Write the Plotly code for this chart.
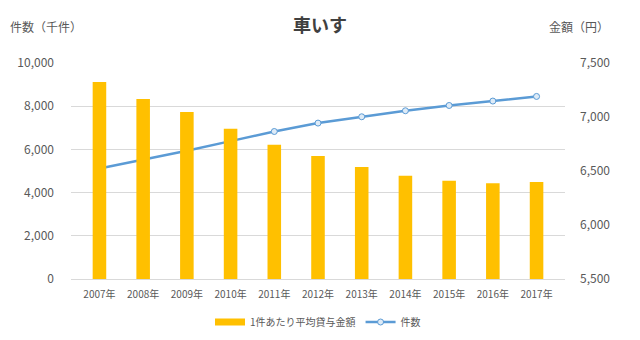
import plotly.graph_objects as go

years = ["2007年", "2008年", "2009年", "2010年", "2011年", "2012年",
         "2013年", "2014年", "2015年", "2016年", "2017年"]
amount_yen = [7324, 7166, 7046, 6891, 6742, 6638, 6538, 6455, 6409, 6387, 6399]
count_k = [5114, 5517, 5934, 6384, 6829, 7218, 7510, 7789, 8034, 8238, 8452]

FONT = "Noto Sans CJK JP"
TXT = "#595959"
BAR_C = "#FFC000"
LINE_C = "#5B9BD5"

fig = go.Figure()
fig.add_trace(go.Bar(
    x=years, y=amount_yen, name="1件あたり平均貸与金額",
    marker=dict(color=BAR_C, line=dict(width=0)),
    width=0.31, yaxis="y2", showlegend=False,
))
# legend-only entry to give the bar series a wide rectangle swatch
fig.add_trace(go.Scatter(
    x=[None], y=[None], name="1件あたり平均貸与金額", mode="lines",
    line=dict(color=BAR_C, width=7), yaxis="y2", hoverinfo="skip",
))
fig.add_trace(go.Scatter(
    x=years, y=count_k, name="件数", mode="lines+markers",
    line=dict(color=LINE_C, width=2.5),
    marker=dict(symbol="circle", size=6, color="#DEEBF7",
                line=dict(color=LINE_C, width=1)),
    yaxis="y",
))

W, H = 640, 340
pl, pr, pt, pb = 71, 75, 63, 61
pw, ph = W - pl - pr, H - pt - pb

fig.update_layout(
    width=W, height=H,
    margin=dict(l=pl, r=pr, t=pt, b=pb, autoexpand=False),
    paper_bgcolor="white", plot_bgcolor="white",
    font=dict(family=FONT, color=TXT, size=12),
    title=dict(text="<b>車いす</b>", x=0.5, xanchor="center", y=0.925,
               yanchor="middle", font=dict(size=18, color="#404040")),
    showlegend=True,
    legend=dict(orientation="h", x=0.5, xanchor="center",
                yref="container", y=1 - 322 / H, yanchor="middle",
                font=dict(size=10, color=TXT), itemwidth=30,
                traceorder="normal"),
    xaxis=dict(showgrid=False, showline=False, ticks="",
               ticklabelstandoff=8,
               tickfont=dict(size=10, color=TXT)),
    yaxis=dict(range=[0, 10000], dtick=2000, tickformat=",d",
               showgrid=True, gridcolor="#D9D9D9", gridwidth=1,
               zeroline=True, zerolinecolor="#D9D9D9", zerolinewidth=1,
               showline=False, ticks="", ticklabelstandoff=16,
               tickfont=dict(size=12, color=TXT)),
    yaxis2=dict(range=[5500, 7500], dtick=500, tickformat=",d",
                overlaying="y", side="right", showgrid=False,
                zeroline=False, showline=False, ticks="",
                ticklabelstandoff=14,
                tickfont=dict(size=12, color=TXT)),
)

def px(x):
    return (x - pl) / pw

def py(y):
    return (H - pb - y) / ph

fig.add_annotation(text="件数（千件）", x=px(8), y=py(27), xref="paper",
                   yref="paper", xanchor="left", yanchor="middle",
                   showarrow=False, font=dict(size=12, color=TXT))
fig.add_annotation(text="金額（円）", x=px(611), y=py(27), xref="paper",
                   yref="paper", xanchor="right", yanchor="middle",
                   showarrow=False, font=dict(size=12, color=TXT))

fig.write_html("out.html")
